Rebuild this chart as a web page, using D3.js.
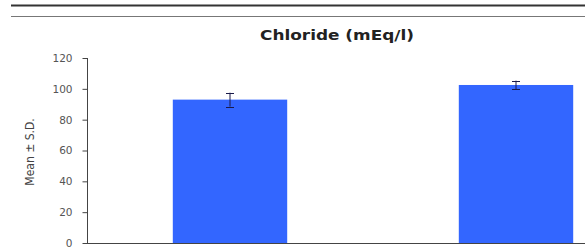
<!DOCTYPE html>
<html>
<head>
  <meta charset="utf-8">
  <script src="https://d3js.org/d3.v7.min.js"></script>
  <style>
    body { margin: 0; background: #fff; }
    .axis text { font-family: "DejaVu Sans", sans-serif; font-size: 10.5px; fill: #555; }
    .axis path, .axis line { stroke: #444; }
  </style>
</head>
<body>
  <svg class="chart"></svg>
  <script>
    const WIDTH = 585;
    const HEIGHT = 248;
    const BAR_COLOR = "#3366ff";

    const TITLE = "Chloride (mEq/l)";
    const Y_LABEL = "Mean \u00b1 S.D.";

    // data
    const groups = ["Group 1", "Group 2"];
    const means = [93, 102.5];
    const sds = [4.5, 2.8];
    const yTicks = [0, 20, 40, 60, 80, 100, 120];

    const svg = d3.select(".chart").attr("width", WIDTH).attr("height", HEIGHT);

    // rules across the top of the page
    svg.append("line").attr("x1", 11).attr("x2", WIDTH).attr("y1", 5.5).attr("y2", 5.5)
      .attr("stroke", "#333").attr("stroke-width", 2);
    svg.append("line").attr("x1", 11).attr("x2", WIDTH).attr("y1", 16.5).attr("y2", 16.5)
      .attr("stroke", "#777").attr("stroke-width", 1);

    // plot runs past the right edge (cropped figure)
    const xScale = d3.scaleBand().domain(groups).range([87, 659])
      .paddingInner(0.6).paddingOuter(0.3);
    const yScale = d3.scaleLinear().domain([0, 120]).range([243, 58]);

    // title is wide and squat in the source, so stretch it
    svg.append("text")
      .attr("x", 260).attr("y", 40)
      .attr("textLength", 154)
      .attr("lengthAdjust", "spacingAndGlyphs")
      .style("font-family", "DejaVu Sans, sans-serif")
      .style("font-weight", "bold")
      .style("font-size", "13.5px")
      .style("fill", "#222")
      .text(TITLE);

    const yAxis = d3.axisLeft(yScale).tickValues(yTicks).tickSize(5).tickPadding(10);
    svg.append("g").attr("class", "axis")
      .attr("transform", "translate(87.5,0)")
      .call(yAxis)
      .call(g => g.select(".domain").attr("d", `M0,${yScale(120)}V${yScale(0)}`));

    svg.append("line").attr("class", "x-axis")
      .attr("x1", 87).attr("x2", WIDTH)
      .attr("y1", yScale(0) + 0.5).attr("y2", yScale(0) + 0.5)
      .attr("stroke", "#444");

    svg.append("text")
      .attr("transform", `translate(34,152) rotate(-90)`)
      .attr("text-anchor", "middle")
      .style("font-family", "Liberation Sans Narrow, DejaVu Sans Condensed, sans-serif")
      .style("font-size", "12px")
      .style("fill", "#444")
      .text(Y_LABEL);

    svg.selectAll(".bar").data(groups).enter().append("rect")
      .attr("class", "bar")
      .attr("x", d => xScale(d))
      .attr("width", xScale.bandwidth())
      .attr("y", (d, i) => yScale(means[i]))
      .attr("height", (d, i) => yScale(0) - yScale(means[i]))
      .attr("fill", BAR_COLOR);

    const err = svg.selectAll(".err").data(groups).enter().append("g")
      .attr("class", "err")
      .attr("stroke", "#1a1a4a").attr("stroke-width", 1);
    err.append("line")
      .attr("x1", d => xScale(d) + xScale.bandwidth() / 2)
      .attr("x2", d => xScale(d) + xScale.bandwidth() / 2)
      .attr("y1", (d, i) => yScale(means[i] + sds[i]))
      .attr("y2", (d, i) => yScale(means[i] - sds[i]));
    [1, -1].forEach(s => {
      err.append("line")
        .attr("x1", d => xScale(d) + xScale.bandwidth() / 2 - 4)
        .attr("x2", d => xScale(d) + xScale.bandwidth() / 2 + 4)
        .attr("y1", (d, i) => Math.round(yScale(means[i] + s * sds[i])) + 0.5)
        .attr("y2", (d, i) => Math.round(yScale(means[i] + s * sds[i])) + 0.5);
    });
  </script>
</body>
</html>
